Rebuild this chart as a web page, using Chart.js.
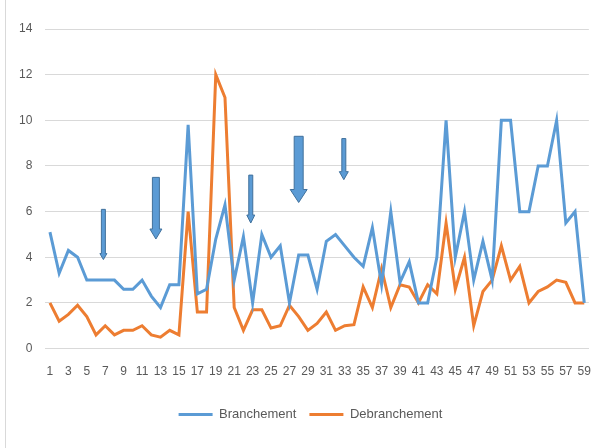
<!DOCTYPE html>
<html lang="fr">
<head>
    <meta charset="UTF-8">
    <title>Branchement / Debranchement</title>
    <style>
        html, body { margin: 0; padding: 0; background: #fff; }
        .cadre { position: relative; width: 607px; height: 448px; }
        .cadre::before { content: ""; position: absolute; left: 5px; top: 0; bottom: 0; border-left: 1px solid #d9d9d9; }
    </style>
</head>
<body>
    <div class="cadre">
        <canvas id="myChart" width="607" height="448"></canvas>
    </div>

<script src="https://cdn.jsdelivr.net/npm/chart.js"></script>
<script>
    // jours 1..59
    var listaJours = [];
    for (var j = 1; j <= 59; j++) listaJours.push(String(j));

    var branchement = [5.1, 3.3, 4.3, 4.0, 3.0, 3.0, 3.0, 3.0, 2.6, 2.6,
                       3.0, 2.3, 1.8, 2.8, 2.8, 9.8, 2.4, 2.6, 4.8, 6.3,
                       3.0, 4.9, 2.0, 5.0, 4.0, 4.5, 2.0, 4.1, 4.1, 2.6,
                       4.7, 5.0, 4.5, 4.0, 3.6, 5.3, 2.8, 6.0, 2.9, 3.8,
                       2.0, 2.0, 4.0, 10.0, 4.0, 6.0, 3.0, 4.7, 3.0, 10.0,
                       10.0, 6.0, 6.0, 8.0, 8.0, 10.0, 5.5, 6.0, 2.0];

    var debranchement = [2.0, 1.2, 1.5, 1.9, 1.4, 0.6, 1.0, 0.6, 0.8, 0.8,
                         1.0, 0.6, 0.5, 0.8, 0.6, 6.0, 1.6, 1.6, 12.0, 11.0,
                         1.8, 0.8, 1.7, 1.7, 0.9, 1.0, 1.9, 1.4, 0.8, 1.1,
                         1.6, 0.8, 1.0, 1.05, 2.7, 1.8, 3.5, 1.8, 2.8, 2.7,
                         2.0, 2.8, 2.4, 5.5, 2.6, 4.0, 1.0, 2.5, 3.0, 4.5,
                         3.0, 3.6, 2.0, 2.5, 2.7, 3.0, 2.9, 2.0, 2.0];

    var yTicks = [0, 2, 4, 6, 8, 10, 12, 14];

    // fleches : position (index de categorie) et valeurs haut / bas
    var flecheX = [5.8, 11.5, 21.8, 27.0, 31.9];
    var flecheHaut = [6.1, 7.5, 7.6, 9.3, 9.2];
    var flecheBas = [3.9, 4.8, 5.5, 6.4, 7.4];

    // largeur tige, largeur tete, hauteur tete (px)
    var flecheStyle = [[4, 7, 6], [7, 12, 10], [4, 8, 8], [9, 17, 13], [4, 9, 8]];

    const fleches = {
        id: 'fleches',
        afterLayout(chart) {
            // legende un peu decalee vers la droite comme dans Excel
            chart.legend.left += 8;
            chart.legend.right += 8;
        },
        afterDatasetsDraw(chart) {
            const ctx = chart.ctx;
            const xs = chart.scales.x, ys = chart.scales.y;
            ctx.save();
            for (var i = 0; i < flecheX.length; i++) {
                var x = xs.getPixelForValue(flecheX[i]);
                var y1 = ys.getPixelForValue(flecheHaut[i]);
                var y2 = ys.getPixelForValue(flecheBas[i]);
                var sw = flecheStyle[i][0] / 2, hw = flecheStyle[i][1] / 2, hh = flecheStyle[i][2];
                ctx.beginPath();
                ctx.moveTo(x - sw, y1);
                ctx.lineTo(x + sw, y1);
                ctx.lineTo(x + sw, y2 - hh);
                ctx.lineTo(x + hw, y2 - hh);
                ctx.lineTo(x, y2);
                ctx.lineTo(x - hw, y2 - hh);
                ctx.lineTo(x - sw, y2 - hh);
                ctx.closePath();
                ctx.fillStyle = '#5B9BD5';
                ctx.fill();
                ctx.lineWidth = 1;
                ctx.strokeStyle = '#41719C';
                ctx.stroke();
            }
            ctx.restore();
        }
    };

    const police = "'Liberation Sans', Arial, sans-serif";

    const ctx = document.getElementById('myChart');
    new Chart(ctx, {
        type: 'line',
        data: {
            labels: listaJours,
            datasets: [{
                label: 'Branchement',
                data: branchement,
                borderColor: '#5B9BD5',
                backgroundColor: '#5B9BD5',
                borderWidth: 3,
                pointRadius: 0,
                tension: 0
            }, {
                label: 'Debranchement',
                data: debranchement,
                borderColor: '#ED7D31',
                backgroundColor: '#ED7D31',
                borderWidth: 3,
                pointRadius: 0,
                tension: 0
            }]
        },
        options: {
            responsive: false,
            animation: false,
            layout: { padding: { left: 6, right: 8, top: 29, bottom: 17 } },
            plugins: {
                tooltip: { enabled: false },
                legend: {
                    position: 'bottom',
                    labels: {
                        usePointStyle: true,
                        pointStyle: 'line',
                        pointStyleWidth: 34,
                        color: '#595959',
                        padding: 13,
                        font: { family: police, size: 13 }
                    }
                }
            },
            scales: {
                x: {
                    offset: true,
                    grid: { display: false, drawTicks: false },
                    border: { color: '#d9d9d9', width: 1 },
                    ticks: {
                        autoSkip: false,
                        maxRotation: 0,
                        padding: 16,
                        color: '#595959',
                        font: { family: police, size: 12 },
                        callback: function (v, i) { return i % 2 === 0 ? listaJours[i] : ''; }
                    }
                },
                y: {
                    min: 0,
                    max: 14,
                    afterBuildTicks: function (axis) { axis.ticks = yTicks.map(function (v) { return { value: v }; }); },
                    grid: { color: '#d9d9d9', drawTicks: false },
                    border: { display: false },
                    ticks: {
                        padding: 13,
                        color: '#595959',
                        font: { family: police, size: 12 }
                    }
                }
            }
        },
        plugins: [fleches]
    });
</script>
</body>
</html>
